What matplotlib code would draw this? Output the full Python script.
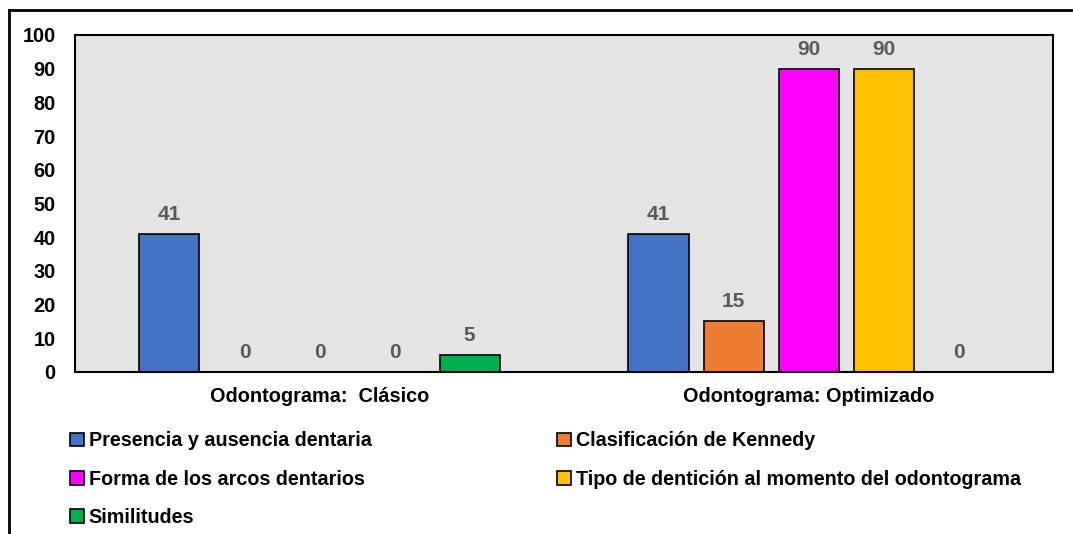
import numpy as np
import matplotlib.pyplot as plt
from matplotlib.lines import Line2D

plt.rcParams["font.family"] = ["Liberation Sans", "DejaVu Sans"]
plt.rcParams["font.weight"] = "bold"

groups = ["Odontograma:  Clásico", "Odontograma: Optimizado"]
series = [
    "Presencia y ausencia dentaria",
    "Clasificación de Kennedy",
    "Forma de los arcos dentarios",
    "Tipo de dentición al momento del odontograma",
    "Similitudes",
]
values = [
    [41, 41],
    [0, 15],
    [0, 90],
    [0, 90],
    [5, 0],
]
colors = ["#4472C4", "#ED7D31", "#FF00FF", "#FFC000", "#00B050"]

fig = plt.figure(figsize=(10.73, 5.34), dpi=100)
ax = fig.add_axes([0.0699, 0.3034, 0.9115, 0.6311])
ax.set_facecolor("#E4E4E4")

x = np.arange(len(groups))
width = 0.1227
step = 0.1534
handles = []
for i, (name, vals, col) in enumerate(zip(series, values, colors)):
    pos = x + (i - 2) * step
    bars = ax.bar(pos, vals, width, color=col, edgecolor="black", linewidth=1.2, label=name)
    handles.append(bars)
    for p, v in zip(pos, vals):
        ax.text(p, v + 3, str(v), ha="center", va="bottom", fontsize=15,
                fontweight="bold", color="#595959")

ax.set_xlim(-0.5, 1.5)
ax.set_ylim(0, 100)
ax.set_yticks(range(0, 101, 10))
ax.set_xticks(x)
ax.set_xticklabels(groups, fontsize=14.5, fontweight="bold")
ax.tick_params(axis="both", length=0, labelsize=14.3)
ax.tick_params(axis="y", pad=14)
ax.tick_params(axis="x", pad=11)
for s in ax.spines.values():
    s.set_linewidth(1.5)

# legend filled column-wise: left column then right column
order = [0, 2, 4, 1, 3]
fig.legend([handles[i] for i in order], [series[i] for i in order],
           ncol=2, loc="upper left", bbox_to_anchor=(0.058, 0.207),
           frameon=False, fontsize=14.2, handlelength=0.7, handleheight=0.7,
           handletextpad=0.25, columnspacing=9.4, labelspacing=0.98,
           borderaxespad=0)

# outer frame
fig.add_artist(Line2D([9 / 1073, 9 / 1073], [0, 1 - 10 / 534], transform=fig.transFigure,
                      color="black", linewidth=2))
fig.add_artist(Line2D([9 / 1073, 1], [1 - 10 / 534, 1 - 10 / 534], transform=fig.transFigure,
                      color="black", linewidth=2))

fig.savefig("out.png", dpi=100)
